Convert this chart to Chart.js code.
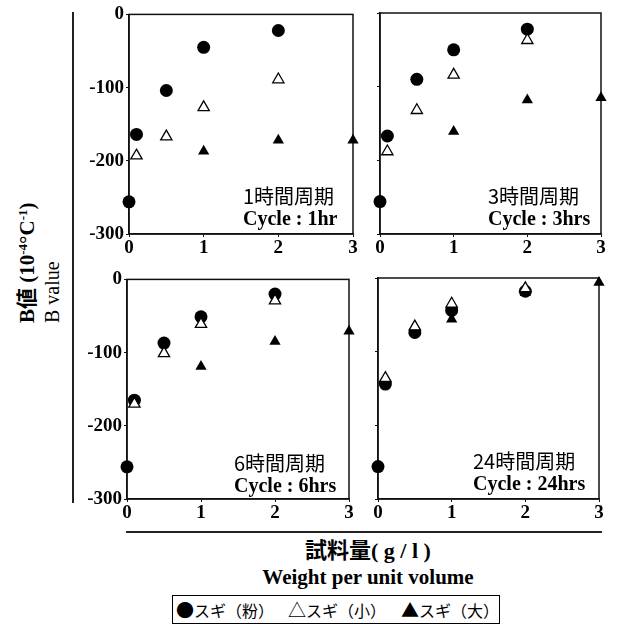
<!DOCTYPE html>
<html>
<head>
<meta charset="utf-8">
<script src="https://cdn.jsdelivr.net/npm/chart.js@4.4.0/dist/chart.umd.min.js"></script>
<style>
  body { margin: 0; background: #fff; width: 617px; height: 625px; position: relative; overflow: hidden; }
  .panel { position: absolute; }
  .note { position: absolute; white-space: nowrap; color: #000; }
  .note .ja { font-family: "Noto Sans CJK JP", sans-serif; font-size: 20px; line-height: 22px; }
  .note .en { font-family: "Liberation Serif", serif; font-weight: bold; font-size: 20px; line-height: 22px; }
  .vline { position: absolute; left: 72px; top: 12px; width: 1.5px; height: 491px; background: #222; }
  .hline { position: absolute; left: 126px; top: 531px; width: 476px; height: 1.5px; background: #222; }
  #ylabel { position: absolute; left: 10px; top: 323px; transform-origin: 0 0; transform: rotate(-90deg); white-space: nowrap; }
  #ylabel .l1 { font-family: "Liberation Serif", "Noto Sans CJK JP", serif; font-weight: bold; font-size: 21px; line-height: 25px; }
  #ylabel .l2 { font-family: "Liberation Serif", serif; font-size: 20px; line-height: 24px; }
  #ylabel sup { font-size: 13px; vertical-align: 7px; }
  #xlabel { position: absolute; left: 168px; width: 400px; top: 538px; text-align: center; }
  #xlabel .l1 { font-family: "Liberation Serif", "Noto Sans CJK JP", serif; font-weight: bold; font-size: 22px; line-height: 26px; }
  #xlabel .l2 { font-family: "Liberation Serif", serif; font-weight: bold; font-size: 21px; line-height: 26px; }
  #legend { position: absolute; left: 172px; top: 595px; width: 326px; height: 27px; border: 1.5px solid #000;
            font-family: "Noto Sans CJK JP", sans-serif; font-size: 16px; line-height: 27px; white-space: nowrap; }
  #legend span { position: absolute; top: 0; }
  #legend b { font-weight: normal; font-size: 18px; }
</style>
</head>
<body>
<div class="vline"></div>
<div class="hline"></div>
<div id="ylabel"><div class="l1">B値 (10<sup>-4</sup>°C<sup>-1</sup>)</div><div class="l2">B value</div></div>

<div class="panel" style="left:69px; top:1px; width:296px; height:261px"><canvas id="c1"></canvas></div>
<div class="panel" style="left:370px; top:1px; width:243px; height:261px"><canvas id="c2"></canvas></div>
<div class="panel" style="left:67px; top:266px; width:294px; height:261px"><canvas id="c3"></canvas></div>
<div class="panel" style="left:368px; top:266px; width:243px; height:261px"><canvas id="c4"></canvas></div>

<div class="note" style="left:243px; top:185px"><div class="ja">1時間周期</div><div class="en">Cycle : 1hr</div></div>
<div class="note" style="left:488px; top:185px"><div class="ja">3時間周期</div><div class="en">Cycle : 3hrs</div></div>
<div class="note" style="left:234px; top:452px"><div class="ja">6時間周期</div><div class="en">Cycle : 6hrs</div></div>
<div class="note" style="left:473px; top:450px"><div class="ja">24時間周期</div><div class="en">Cycle : 24hrs</div></div>

<div id="xlabel"><div class="l1">試料量( g / l )</div><div class="l2">Weight per unit volume</div></div>

<div id="legend">
  <span style="left:3px"><b>●</b>スギ（粉）</span>
  <span style="left:115px"><b>△</b>スギ（小）</span>
  <span style="left:228px"><b>▲</b>スギ（大）</span>
</div>

<script>
// sample weight (g/l) for each sample type
const weightPowder = [0, 0.1, 0.5, 1, 2]
const weightSmall = [0.1, 0.5, 1, 2]
const weightLarge = [1, 2, 3]

// B value (10^-4 /°C)
const powder1h = [-256, -164, -104, -45, -22]
const small1h = [-193, -167, -127, -89]
const large1h = [-187, -172, -172]

const powder3h = [-256, -167, -90, -50, -22]
const small3h = [-188, -132, -84, -37]
const large3h = [-161, -118, -115]

const powder6h = [-256, -165, -87, -51, -20]
const small6h = [-170, -101, -61, -29]
const large6h = [-119, -85, -71]

const powder24h = [-256, -144, -74, -44, -18]
const small24h = [-136, -66, -35, -14]
const large24h = [-56, -20, -6]

const xTicks = [0, 1, 2, 3]
const yTicks = [0, -100, -200, -300]

const toPoints = (xs, ys) => xs.map((x, i) => ({ x, y: ys[i] }))

// box round the plot area
const frame = {
    id: 'frame',
    beforeDatasetsDraw(chart) {
        const { ctx, chartArea: a } = chart
        ctx.save()
        ctx.strokeStyle = '#111'
        ctx.lineWidth = 1.5
        ctx.strokeRect(a.left, a.top, a.right - a.left, a.bottom - a.top)
        ctx.restore()
    }
}

const tickFont = { family: '"Liberation Serif", serif', size: 19, weight: 'bold' }

const makePanel = (id, powder, small, large, showY) => {
    new Chart(document.getElementById(id), {
        type: 'scatter',
        data: {
            datasets: [
                {
                    label: 'スギ（小）',
                    data: toPoints(weightSmall, small),
                    pointStyle: 'triangle',
                    pointRadius: 6.5,
                    backgroundColor: '#fff',
                    borderColor: '#000',
                    borderWidth: 1.3
                },
                {
                    label: 'スギ（粉）',
                    data: toPoints(weightPowder, powder),
                    pointStyle: 'circle',
                    pointRadius: 6.5,
                    backgroundColor: '#000',
                    borderColor: '#000',
                    borderWidth: 0
                },
                {
                    label: 'スギ（大）',
                    data: toPoints(weightLarge, large),
                    pointStyle: 'triangle',
                    pointRadius: 6.5,
                    backgroundColor: '#000',
                    borderColor: '#000',
                    borderWidth: 0
                }
            ]
        },
        options: {
            responsive: true,
            maintainAspectRatio: false,
            animation: false,
            clip: false,
            layout: { padding: { top: 12, right: 12, left: 0, bottom: 0 } },
            plugins: { legend: { display: false }, tooltip: { enabled: false } },
            scales: {
                x: {
                    type: 'linear',
                    min: 0,
                    max: 3,
                    afterFit: (scale) => { scale.height = 28 },
                    afterBuildTicks: (scale) => { scale.ticks = xTicks.map(v => ({ value: v })) },
                    grid: { drawOnChartArea: false, drawTicks: true, tickLength: 3, color: '#111' },
                    border: { display: true, color: '#111', width: 1.5 },
                    ticks: { color: '#000', font: tickFont, padding: 0, maxRotation: 0 }
                },
                y: {
                    type: 'linear',
                    min: -300,
                    max: 0,
                    afterFit: (scale) => { scale.width = showY ? 60 : 10 },
                    afterBuildTicks: (scale) => { scale.ticks = yTicks.map(v => ({ value: v })) },
                    grid: { drawOnChartArea: false, drawTicks: true, tickLength: 3, color: '#111' },
                    border: { display: true, color: '#111', width: 1.5 },
                    ticks: { display: showY, color: '#000', font: tickFont, padding: 2 }
                }
            }
        },
        plugins: [frame]
    })
}

makePanel('c1', powder1h, small1h, large1h, true)
makePanel('c2', powder3h, small3h, large3h, false)
makePanel('c3', powder6h, small6h, large6h, true)
makePanel('c4', powder24h, small24h, large24h, false)
</script>
</body>
</html>
